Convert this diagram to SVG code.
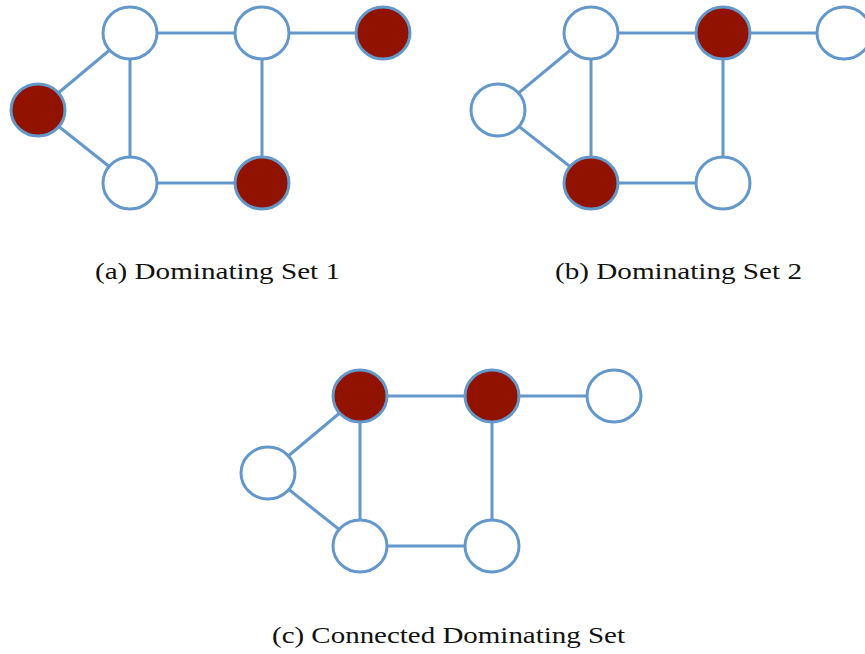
<svg xmlns="http://www.w3.org/2000/svg" width="865" height="654" viewBox="0 0 865 654">
<style>
.e{stroke:#6497CA;stroke-width:3;fill:none}
.n{stroke:#6497CA;stroke-width:3;fill:#fff}
.r{stroke:#6497CA;stroke-width:3;fill:#921200}
.t{font-family:"Liberation Serif","DejaVu Serif",serif;font-size:23.5px;fill:#111;text-anchor:middle}
</style>
<rect width="865" height="654" fill="#fff"/>
<g id="connectors">
<g id="edges-a">
<line class="e" x1="38" y1="110" x2="130" y2="33"/>
<line class="e" x1="38" y1="110" x2="130" y2="183"/>
<line class="e" x1="130" y1="33" x2="130" y2="183"/>
<line class="e" x1="130" y1="33" x2="262" y2="33"/>
<line class="e" x1="262" y1="33" x2="383" y2="33"/>
<line class="e" x1="262" y1="33" x2="262" y2="183"/>
<line class="e" x1="130" y1="183" x2="262" y2="183"/>
</g>
<g id="edges-b">
<line class="e" x1="498" y1="110" x2="591" y2="33"/>
<line class="e" x1="498" y1="110" x2="591" y2="183"/>
<line class="e" x1="591" y1="33" x2="591" y2="183"/>
<line class="e" x1="591" y1="33" x2="723" y2="33"/>
<line class="e" x1="723" y1="33" x2="844" y2="33"/>
<line class="e" x1="723" y1="33" x2="723" y2="183"/>
<line class="e" x1="591" y1="183" x2="723" y2="183"/>
</g>
<g id="edges-c">
<line class="e" x1="268" y1="473" x2="360" y2="396"/>
<line class="e" x1="268" y1="473" x2="360" y2="546"/>
<line class="e" x1="360" y1="396" x2="360" y2="546"/>
<line class="e" x1="360" y1="396" x2="492" y2="396"/>
<line class="e" x1="492" y1="396" x2="614" y2="396"/>
<line class="e" x1="492" y1="396" x2="492" y2="546"/>
<line class="e" x1="360" y1="546" x2="492" y2="546"/>
</g>
</g>
<g id="a-n1"><ellipse class="r" cx="38" cy="110" rx="27" ry="26"/></g>
<g id="a-n2"><ellipse class="n" cx="130" cy="33" rx="27" ry="26"/></g>
<g id="a-n3"><ellipse class="n" cx="262" cy="33" rx="27" ry="26"/></g>
<g id="a-n4"><ellipse class="r" cx="383" cy="33" rx="27" ry="26"/></g>
<g id="a-n5"><ellipse class="n" cx="130" cy="183" rx="27" ry="26"/></g>
<g id="a-n6"><ellipse class="r" cx="262" cy="183" rx="27" ry="26"/></g>
<g id="b-n1"><ellipse class="n" cx="498" cy="110" rx="27" ry="26"/></g>
<g id="b-n2"><ellipse class="n" cx="591" cy="33" rx="27" ry="26"/></g>
<g id="b-n3"><ellipse class="r" cx="723" cy="33" rx="27" ry="26"/></g>
<g id="b-n4"><ellipse class="n" cx="844" cy="33" rx="27" ry="26"/></g>
<g id="b-n5"><ellipse class="r" cx="591" cy="183" rx="27" ry="26"/></g>
<g id="b-n6"><ellipse class="n" cx="723" cy="183" rx="27" ry="26"/></g>
<g id="c-n1"><ellipse class="n" cx="268" cy="473" rx="27" ry="26"/></g>
<g id="c-n2"><ellipse class="r" cx="360" cy="396" rx="27" ry="26"/></g>
<g id="c-n3"><ellipse class="r" cx="492" cy="396" rx="27" ry="26"/></g>
<g id="c-n4"><ellipse class="n" cx="614" cy="396" rx="27" ry="26"/></g>
<g id="c-n5"><ellipse class="n" cx="360" cy="546" rx="27" ry="26"/></g>
<g id="c-n6"><ellipse class="n" cx="492" cy="546" rx="27" ry="26"/></g>
<g id="labels">
<text class="t" x="217.5" y="279" textLength="245" lengthAdjust="spacingAndGlyphs">(a) Dominating Set 1</text>
<text class="t" x="678.5" y="279" textLength="247" lengthAdjust="spacingAndGlyphs">(b) Dominating Set 2</text>
<text class="t" x="448.5" y="643" textLength="353" lengthAdjust="spacingAndGlyphs">(c) Connected Dominating Set</text>
</g>
</svg>
